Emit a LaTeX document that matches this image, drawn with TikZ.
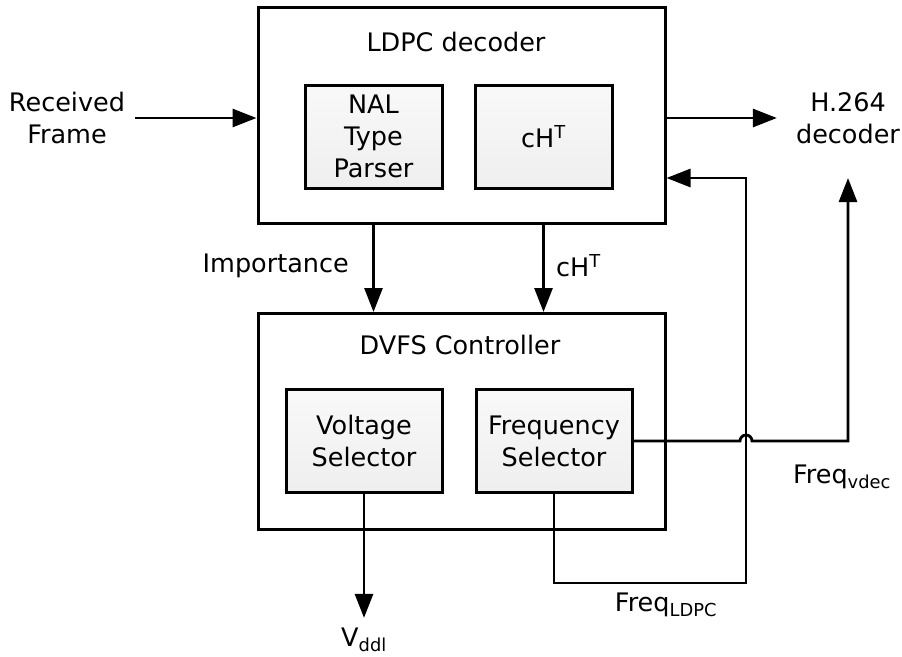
\documentclass[tikz,border=0pt]{standalone}
\usepackage{fontspec}
\setmainfont{DejaVu Sans}
\usetikzlibrary{arrows.meta, positioning}

\begin{document}
\begin{tikzpicture}[x=1pt, y=-1pt, font=\fontsize{25.5}{32}\selectfont]
    % Styles
    \tikzstyle{outer} = [rectangle, draw, line width=3pt, minimum width=407pt, minimum height=216pt]
    \tikzstyle{inner} = [rectangle, draw, line width=3pt, top color=gray!5, bottom color=gray!13, align=center, minimum width=137pt, minimum height=103pt, inner sep=2pt]
    \tikzstyle{txt} = [align=center, inner sep=0pt]
    \tikzstyle{arrow} = [line width=2.8pt, -{Triangle[length=24pt, width=18pt]}]

    \useasboundingbox (0,0) rectangle (902,656);

    % Nodes
    \node [outer] (ldpc) at (461.5,115.5) {};
    \node [txt] (ldpctitle) at (456,42) {LDPC decoder};
    \node [inner] (nal) at (373.5,136.5) {NAL\\Type\\Parser};
    \node [inner] (cht) at (543.5,136.5) {cH\textsuperscript{T}};

    \node [outer] (dvfs) at (461.5,421.5) {};
    \node [txt] (dvfstitle) at (460,345) {DVFS Controller};
    \node [inner, minimum width=156pt] (volt) at (364,441) {Voltage\\Selector};
    \node [inner, minimum width=156pt] (freq) at (554,441) {Frequency\\Selector};

    \node [txt] (recv) at (67,118) {Received\\Frame};
    \node [txt] (h264) at (848,118) {H.264\\decoder};
    \node [txt, anchor=east] (imp) at (349,266) {Importance};
    \node [txt, anchor=west] (chtlabel) at (556,266) {cH\textsuperscript{T}};
    \node [txt] (fvdec) at (842,477) {Freq\textsubscript{vdec}};
    \node [txt] (fldpc) at (666,605) {Freq\textsubscript{LDPC}};
    \node [txt] (vddl) at (364,640) {V\textsubscript{ddl}};

    \coordinate (loop) at (746,583);
    \coordinate (vdec) at (848,178);

    % Arrows
    \draw [arrow] ([xshift=10pt]recv.east) -- (ldpc.west |- recv.east);
    \draw [arrow] (ldpc.east |- h264) -- ([xshift=-19pt]h264.west);
    \draw [arrow] (nal |- ldpc.south) -- (nal |- dvfs.north);
    \draw [arrow] (cht |- ldpc.south) -- (cht |- dvfs.north);
    \draw [arrow] (volt.south) -- ([yshift=10pt]vddl.north);
    \draw [arrow] (freq.south) |- (loop) |- ([yshift=-62.5pt]ldpc.east);
    \draw [arrow] (freq.east) -- (740,441) arc[start angle=180, end angle=0, radius=6pt] -- (vdec |- freq.east) -- (vdec);
\end{tikzpicture}
\end{document}
